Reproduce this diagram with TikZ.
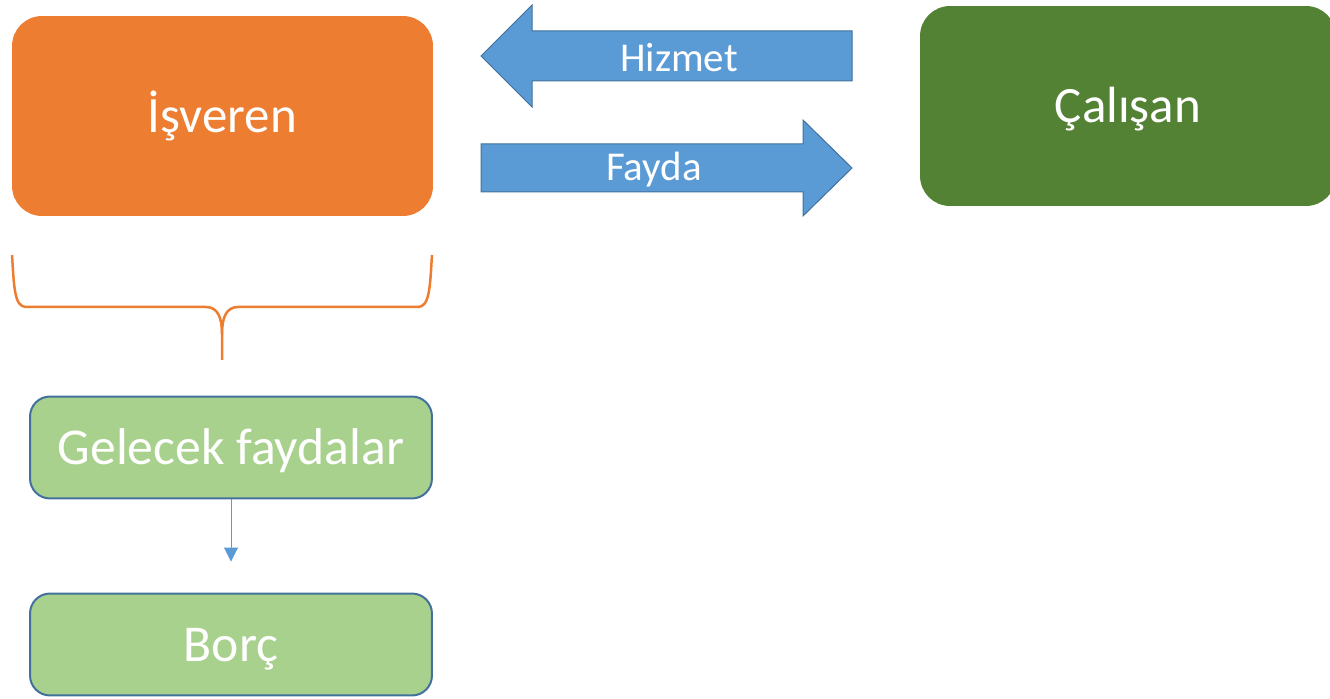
\documentclass[tikz,border=0pt]{standalone}
\usepackage{fontspec}
\setmainfont{Carlito}
\usetikzlibrary{arrows.meta}
\definecolor{isorange}{HTML}{ED7D31}
\definecolor{calgreen}{HTML}{548235}
\definecolor{lightgreen}{HTML}{A9D18E}
\definecolor{edgeblue}{HTML}{41719C}
\definecolor{arrowblue}{HTML}{5B9BD5}
\begin{document}
\begin{tikzpicture}[x=0.02cm,y=-0.02cm,
	bigbox/.style={rectangle, rounded corners=0.6cm, inner sep=0pt, minimum height=4cm,
		text=white, font=\fontsize{29}{34}\selectfont, text height=19pt, text depth=0pt},
	greenbox/.style={rectangle, rounded corners=0.4cm, inner sep=0pt, minimum width=8.04cm,
		minimum height=2.04cm, fill=lightgreen, draw=edgeblue, line width=0.04cm,
		text=white, font=\fontsize{29.4}{34}\selectfont, text height=19pt, text depth=0pt},
	flowarrow/.style={fill=arrowblue, draw=edgeblue, line width=0.02cm},
	flowtext/.style={text=white, font=\fontsize{23.3}{28}\selectfont}]
	
	\useasboundingbox (0,0) rectangle (1330,699);
	
	\node[bigbox, fill=isorange, minimum width=8.42cm] (isveren) at (222.5,116) {İşveren};
	\node[bigbox, fill=calgreen, minimum width=8.32cm] (calisan) at (1128,106) {Çalışan};
	
	\draw[flowarrow] (481,56) -- (532,5) -- (532,31) -- (852,31) -- (852,81) -- (532,81) -- (532,107) -- cycle;
	\node[flowtext] (hizmet) at (679,58) {Hizmet};
	\draw[flowarrow] (481,144) -- (803,144) -- (803,120) -- (852,168) -- (803,216) -- (803,192) -- (481,192) -- cycle;
	\node[flowtext] (fayda) at (654,170) {Fayda};
	
	% brace
	\draw[isorange, line width=0.05cm] (12,255) .. controls (14,285) and (14,307) .. (26,307) -- (206,307)
		.. controls (218,307) and (222,318) .. (222,334) -- (222,360);
	\draw[isorange, line width=0.05cm] (432,255) .. controls (430,285) and (430,307) .. (418,307) -- (238,307)
		.. controls (226,307) and (222,318) .. (222,334);
	
	\node[greenbox] (gelecek) at (231,447.5) {Gelecek faydalar};
	\node[greenbox] (borc) at (231,644.5) {Borç};
	
	\draw[arrowblue, line width=0.02cm, -{Triangle[length=0.28cm, width=0.28cm]}, shorten >=0.62cm] (gelecek) -- (borc);
	
\end{tikzpicture}
\end{document}
